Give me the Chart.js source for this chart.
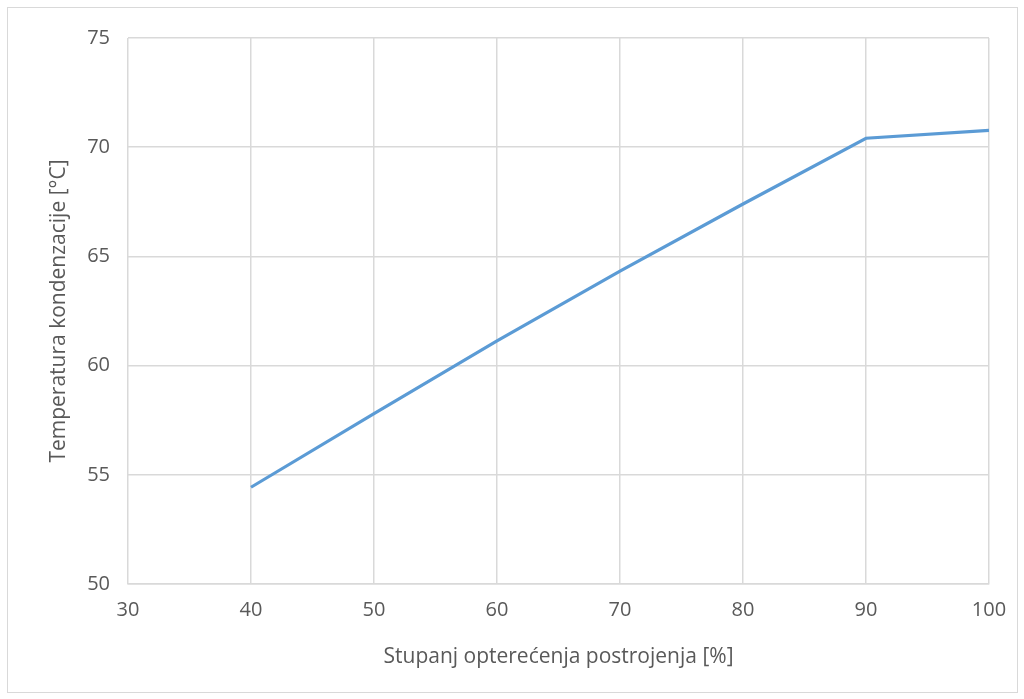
<!DOCTYPE html>
<html>
<head>
<meta charset="utf-8">
<script src="https://cdn.jsdelivr.net/npm/chart.js@4"></script>
<style>
body{margin:0;background:#fff;}
#box{position:absolute;left:7px;top:7px;width:1009px;height:684px;border:1px solid #d9d9d9;}
canvas{display:block;}
</style>
</head>
<body>
<div id="box"><canvas id="chart" width="1009" height="684"></canvas></div>
<script>
// load % and condensation temperature
const loadPct=[40,50,60,70,80,90,100];
const condTemp=[54.43,57.8,61.13,64.33,67.4,70.41,70.77];
const xTitle='Stupanj opterećenja postrojenja [%]';
const yTitle='Temperatura kondenzacije [°C]';

const txt='#595959', grid='#d9d9d9';
const font={family:'"Open Sans", sans-serif',size:20};
const titleFont={family:'"Open Sans", sans-serif',size:21};

new Chart(document.getElementById('chart').getContext('2d'),{
  type:'line',
  data:{datasets:[{
    data:loadPct.map((x,i)=>({x:x,y:condTemp[i]})),
    borderColor:'#5b9bd5',borderWidth:3.2,pointRadius:0,tension:0,fill:false
  }]},
  options:{
    responsive:false,animation:false,
    plugins:{legend:{display:false},tooltip:{enabled:false}},
    layout:{padding:{left:8,right:0,top:27,bottom:10}},
    scales:{
      x:{type:'linear',min:30,max:100,
        afterFit:s=>{s.height=98;s.paddingRight=28;},
        ticks:{stepSize:10,color:txt,font:font,padding:14},
        grid:{color:grid,lineWidth:1.5,drawTicks:false},
        border:{color:grid,width:1.5},
        title:{display:true,text:xTitle,color:txt,font:titleFont,padding:{top:0,bottom:12}}},
      y:{min:50,max:75,
        afterFit:s=>{s.width=112;},
        ticks:{stepSize:5,color:txt,font:font,padding:18},
        grid:{color:grid,lineWidth:1.5,drawTicks:false},
        border:{display:false},
        title:{display:true,text:yTitle,color:txt,font:titleFont,padding:{top:30,bottom:0}}}
    }
  }
});
</script>
</body>
</html>
